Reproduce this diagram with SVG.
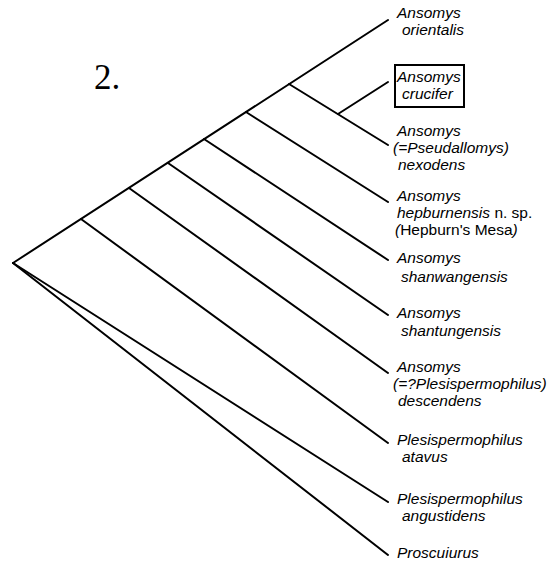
<svg xmlns="http://www.w3.org/2000/svg" width="554" height="567" viewBox="0 0 554 567">
<style>
.e{stroke:#000;stroke-width:2;fill:none;stroke-linecap:round}
.t{font-family:"Liberation Sans",Arial,sans-serif;font-size:15.5px;font-style:italic;fill:#000}
.u{font-style:normal}
.n{font-family:"Liberation Serif","Times New Roman",serif;font-size:35px;fill:#000}
</style>
<rect width="554" height="567" fill="#fff"/>
<text class="n" x="94" y="89">2.</text>
<g id="edges">
<line class="e" x1="13" y1="263" x2="388" y2="20"/>
<line class="e" x1="338" y1="114" x2="388" y2="82"/>
<line class="e" x1="289" y1="84" x2="388" y2="145"/>
<line class="e" x1="246" y1="112" x2="388" y2="202"/>
<line class="e" x1="204" y1="139" x2="388" y2="260"/>
<line class="e" x1="168" y1="163" x2="388" y2="315"/>
<line class="e" x1="129" y1="188" x2="388" y2="373"/>
<line class="e" x1="81" y1="219" x2="388" y2="443"/>
<line class="e" x1="13" y1="263" x2="388" y2="502"/>
<line class="e" x1="13" y1="263" x2="388" y2="555"/>
</g>
<g id="orientalis"><text class="t" x="397" y="18">Ansomys</text><text class="t" x="402" y="35">orientalis</text></g>
<g id="crucifer"><rect x="395" y="65" width="69" height="42" fill="none" stroke="#000" stroke-width="2"/><text class="t" x="397" y="82">Ansomys</text><text class="t" x="402" y="99">crucifer</text></g>
<g id="nexodens"><text class="t" x="397" y="136">Ansomys</text><text class="t" x="393" y="153">(=Pseudallomys)</text><text class="t" x="398" y="170">nexodens</text></g>
<g id="hepburnensis"><text class="t" x="397" y="201">Ansomys</text><text class="t" x="397" y="218">hepburnensis<tspan class="u"> n. sp.</tspan></text><text class="t" x="395" y="235">(<tspan class="u">Hepburn's Mesa</tspan>)</text></g>
<g id="shanwangensis"><text class="t" x="397" y="263">Ansomys</text><text class="t" x="401" y="282">shanwangensis</text></g>
<g id="shantungensis"><text class="t" x="397" y="318">Ansomys</text><text class="t" x="401" y="336">shantungensis</text></g>
<g id="descendens"><text class="t" x="397" y="372">Ansomys</text><text class="t" x="393" y="389">(=?Plesispermophilus)</text><text class="t" x="398" y="406">descendens</text></g>
<g id="atavus"><text class="t" x="397" y="445">Plesispermophilus</text><text class="t" x="402" y="462">atavus</text></g>
<g id="angustidens"><text class="t" x="397" y="504">Plesispermophilus</text><text class="t" x="402" y="521">angustidens</text></g>
<g id="proscuiurus"><text class="t" x="397" y="558">Proscuiurus</text></g>
</svg>
